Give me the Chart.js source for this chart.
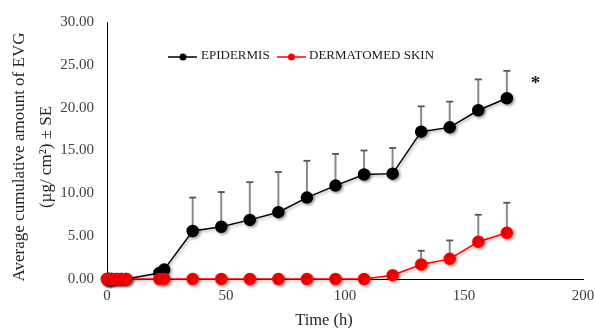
<!DOCTYPE html>
<html><head><meta charset="utf-8">
<script src="https://cdn.jsdelivr.net/npm/chart.js@4.4.1/dist/chart.umd.min.js"></script>
<style>html,body{margin:0;padding:0;background:#fff;}#wrap{width:595px;height:328px;}</style>
</head><body><div id="wrap"><canvas id="c" width="595" height="328"></canvas></div>
<script>
const timesH = [0, 0.5, 1, 2, 4, 6, 8, 22, 24, 36, 48, 60, 72, 84, 96, 108, 120, 132, 144, 156, 168];
const epidermisMean = [0, 0, 0, 0, 0, 0, 0, 0.7, 1.1, 5.6, 6.1, 6.9, 7.8, 9.5, 10.9, 12.2, 12.3, 17.2, 17.7, 19.7, 21.1];
const epidermisSE = [0, 0, 0, 0, 0, 0, 0, 0, 0, 3.9, 4.05, 4.4, 4.7, 4.3, 3.7, 2.8, 3.0, 2.95, 3.0, 3.6, 3.2];
const dermMean = [0, 0, 0, 0, 0, 0, 0, 0, 0, 0, 0, 0, 0, 0, 0, 0, 0.45, 1.7, 2.35, 4.35, 5.4];
const dermSE = [0, 0, 0, 0, 0, 0, 0, 0, 0, 0, 0, 0, 0, 0, 0, 0, 0, 1.6, 2.15, 3.15, 3.5];
const seriesNames = ['EPIDERMIS', 'DERMATOMED SKIN'];
const xTicks = [0, 50, 100, 150, 200];
const yTicks = [0, 5, 10, 15, 20, 25, 30];
const yTitleLines = ['Average cumulative amount of EVG', '(µg/ cm²) ± SE'];
const xTitle = 'Time (h)';
const sigMark = '*';

const SERIF = '"Liberation Serif", "Times New Roman", serif';

function pts(xs, ys) { return xs.map((x, i) => ({ x: x, y: ys[i] })); }

const errorBars = {
  id: 'errorBars',
  beforeDatasetsDraw(chart) {
    const ctx = chart.ctx;
    const xs = chart.scales.x, ys = chart.scales.y;
    chart.data.datasets.forEach(ds => {
      const se = ds.se;
      if (!se) return;
      ds.data.forEach((p, i) => {
        if (!se[i]) return;
        const px = xs.getPixelForValue(p.x);
        const y0 = ys.getPixelForValue(p.y);
        const y1 = ys.getPixelForValue(p.y + se[i]);
        ctx.save();
        ctx.strokeStyle = '#8a8a8a';
        ctx.lineWidth = 2;
        ctx.beginPath(); ctx.moveTo(px, y0); ctx.lineTo(px, y1); ctx.stroke();
        ctx.strokeStyle = '#555';
        ctx.lineWidth = 1.8;
        ctx.beginPath(); ctx.moveTo(px - 3.5, y1); ctx.lineTo(px + 3.5, y1); ctx.stroke();
        ctx.restore();
      });
    });
  }
};

const shadow = {
  id: 'shadow',
  beforeDatasetDraw(chart) {
    const ctx = chart.ctx;
    ctx.save();
    ctx.shadowColor = 'rgba(0,0,0,0.35)';
    ctx.shadowBlur = 3;
    ctx.shadowOffsetX = 1.5;
    ctx.shadowOffsetY = 1.5;
  },
  afterDatasetDraw(chart) { chart.ctx.restore(); }
};

const extras = {
  id: 'extras',
  afterDraw(chart) {
    const ctx = chart.ctx;
    ctx.save();
    // y title
    ctx.fillStyle = '#262626';
    ctx.font = '17px ' + SERIF;
    ctx.textAlign = 'center';
    ctx.textBaseline = 'middle';
    const cy = 157;
    [20, 47].forEach((x, i) => {
      ctx.save();
      ctx.translate(x, cy);
      ctx.rotate(-Math.PI / 2);
      ctx.fillText(yTitleLines[i], 0, 0);
      ctx.restore();
    });
    // x title
    ctx.font = '16.5px ' + SERIF;
    ctx.fillText(xTitle, 324, 321);
    // legend
    const ds = chart.data.datasets;
    const legendItems = [
      { x0: 168, x1: 197, mx: 183, tx: 201, d: ds[1] },
      { x0: 277, x1: 306, mx: 291.5, tx: 309, d: ds[0] }
    ];
    legendItems.forEach(it => {
      const ly = 57;
      ctx.strokeStyle = it.d.borderColor;
      ctx.lineWidth = 1.5;
      ctx.beginPath(); ctx.moveTo(it.x0, ly); ctx.lineTo(it.x1, ly); ctx.stroke();
      ctx.fillStyle = it.d.pointBackgroundColor;
      ctx.beginPath(); ctx.arc(it.mx, ly, 3.5, 0, Math.PI * 2); ctx.fill();
      ctx.fillStyle = '#1a1a1a';
      ctx.font = '13px ' + SERIF;
      ctx.textAlign = 'left';
      ctx.textBaseline = 'alphabetic';
      ctx.fillText(it.d.label, it.tx, 58.5);
    });
    // significance mark
    ctx.fillStyle = '#222';
    ctx.font = 'bold 19px ' + SERIF;
    ctx.textAlign = 'center';
    ctx.fillText(sigMark, 535.5, 89);
    ctx.restore();
  }
};

const tickFont = { family: SERIF, size: 15 };

new Chart(document.getElementById('c'), {
  type: 'line',
  data: {
    datasets: [
      {
        label: seriesNames[1],
        data: pts(timesH, dermMean),
        se: dermSE,
        borderColor: '#ff0000',
        backgroundColor: '#ff0000',
        pointBackgroundColor: '#ff0000',
        pointBorderColor: '#ff0000',
        pointRadius: 5.5,
        borderWidth: 1.5,
        order: 0,
        clip: false
      },
      {
        label: seriesNames[0],
        data: pts(timesH, epidermisMean),
        se: epidermisSE,
        borderColor: '#000000',
        backgroundColor: '#000000',
        pointBackgroundColor: '#000000',
        pointBorderColor: '#000000',
        pointRadius: 5.5,
        borderWidth: 1.5,
        order: 1,
        clip: false
      }
    ]
  },
  options: {
    responsive: false,
    animation: false,
    devicePixelRatio: 1,
    layout: { padding: { left: 0, right: 12, top: 21, bottom: 19 } },
    plugins: { legend: { display: false }, tooltip: { enabled: false } },
    elements: { line: { tension: 0 } },
    scales: {
      x: {
        type: 'linear',
        min: 0, max: 200,
        afterBuildTicks: s => { s.ticks = xTicks.map(v => ({ value: v })); },
        afterFit: s => { s.height = 30; s.paddingLeft = 0; s.paddingRight = 0; },
        ticks: { font: tickFont, color: '#404040', padding: 8, callback: v => String(v), maxRotation: 0 },
        grid: { drawOnChartArea: false, drawTicks: false, color: 'rgba(0,0,0,0)' },
        border: { display: true, color: '#000', width: 1 }
      },
      y: {
        min: 0, max: 30,
        afterBuildTicks: s => { s.ticks = yTicks.map(v => ({ value: v })); },
        afterFit: s => { s.width = 107; },
        ticks: { font: tickFont, color: '#404040', padding: 13, callback: v => Number(v).toFixed(2) },
        grid: { drawOnChartArea: false, drawTicks: false, color: 'rgba(0,0,0,0)' },
        border: { display: true, color: '#000', width: 1 }
      }
    }
  },
  plugins: [errorBars, shadow, extras]
});
</script></body></html>
